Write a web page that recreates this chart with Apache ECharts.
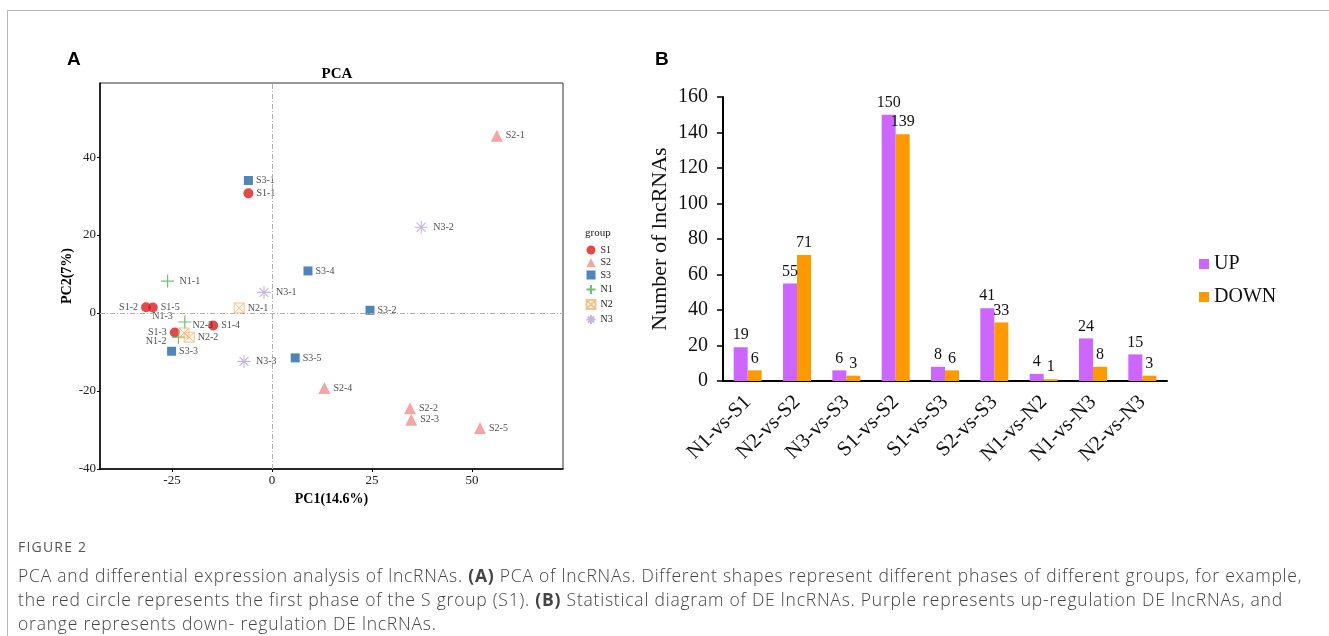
<!DOCTYPE html>
<html>
<head>
<meta charset="utf-8">
<script src="https://cdn.jsdelivr.net/npm/echarts@6/dist/echarts.min.js"></script>
<style>
html, body { margin: 0; padding: 0; background: #fff; }
#frame { position: absolute; left: 7px; top: 10px; width: 1330px; height: 640px;
         border-top: 1px solid #b8b8b8; border-left: 1px solid #b8b8b8; }
#chart { position: absolute; left: 0; top: 0; width: 1329px; height: 636px; }
#caption { position: absolute; left: 18px; top: 537px; font-family: 'Open Sans', sans-serif;
           color: #444; white-space: nowrap; }
#caption .fig { font-size: 14px; line-height: 19px; color: #555; letter-spacing: 1.2px; margin-bottom: 7px; }
#caption .txt { font-size: 17.5px; line-height: 24px; letter-spacing: 0.78px; font-weight: 300; }
#caption b { font-weight: 700; }
</style>
</head>
<body>
<div id="frame"></div>
<div id="chart"></div>
<div id="caption">
  <div class="fig">FIGURE 2</div>
  <div class="txt">PCA and differential expression analysis of lncRNAs. <b>(A)</b> PCA of lncRNAs. Different shapes represent different phases of different groups, for example,<br>the red circle represents the first phase of the S group (S1). <b>(B)</b> Statistical diagram of DE lncRNAs. Purple represents up-regulation DE lncRNAs, and<br>orange represents down- regulation DE lncRNAs.</div>
</div>
<script>
// PCA samples: [name, PC1, PC2]
const pcaS1 = [['S1-1', -5.9, 30.7], ['S1-2', -31.5, 1.5], ['S1-3', -24.3, -5.0], ['S1-4', -14.7, -3.2], ['S1-5', -29.8, 1.4]];
const pcaS2 = [['S2-1', 56.2, 45.5], ['S2-2', 34.5, -24.4], ['S2-3', 34.8, -27.4], ['S2-4', 13.1, -19.2], ['S2-5', 52.0, -29.5]];
const pcaS3 = [['S3-1', -5.9, 34.0], ['S3-2', 24.5, 0.7], ['S3-3', -25.1, -9.8], ['S3-4', 9.0, 10.8], ['S3-5', 5.8, -11.5]];
const pcaN1 = [['N1-1', -26.1, 8.2], ['N1-2', -23.4, -6.2], ['N1-3', -21.8, -2.3]];
const pcaN2 = [['N2-1', -8.2, 1.3], ['N2-2', -20.7, -6.2], ['N2-3', -22.0, -5.1]];
const pcaN3 = [['N3-1', -2.0, 5.3], ['N3-2', 37.3, 22.0], ['N3-3', -7.0, -12.4]];
const pcaXTicks = [-25, 0, 25, 50];
const pcaYTicks = [-40, -20, 0, 20, 40];

// DE lncRNA counts
const compares = ['N1-vs-S1', 'N2-vs-S2', 'N3-vs-S3', 'S1-vs-S2', 'S1-vs-S3', 'S2-vs-S3', 'N1-vs-N2', 'N1-vs-N3', 'N2-vs-N3'];
const upCounts = [19, 55, 6, 150, 8, 41, 4, 24, 15];
const downCounts = [6, 71, 3, 139, 6, 33, 1, 8, 3];

const SERIF = '"Liberation Serif", "Times New Roman", serif';

// label placement tweaks for the crowded cluster
const labelTweaks = {
    'S1-2': { position: 'left' },
    'S1-3': { position: 'left' },
    'N1-2': { position: 'left', offset: [0, 4] },
    'N1-3': { position: 'left', offset: [0, -6] },
    'N2-3': { position: 'right', offset: [0, -8] }
};

function toPoints(rows) {
    return rows.map(r => {
        let item = { name: r[0], value: [r[1], r[2]] };
        if (labelTweaks[r[0]]) item.label = labelTweaks[r[0]];
        return item;
    });
}

const groups = [
    { name: 'S1', rows: pcaS1, symbol: 'circle', size: 10, style: { color: '#dd1c1c' } },
    { name: 'S2', rows: pcaS2, symbol: 'triangle', size: 12, style: { color: '#f0908c' } },
    { name: 'S3', rows: pcaS3, symbol: 'rect', size: 9, style: { color: '#2367a8' } },
    { name: 'N1', rows: pcaN1, symbol: 'path://M5,0L5,10M0,5L10,5', size: 13,
      style: { color: 'none', borderColor: '#4fb04f', borderWidth: 1.2 } },
    { name: 'N2', rows: pcaN2, symbol: 'path://M0,0L10,0L10,10L0,10ZM0,0L10,10M10,0L0,10', size: 10,
      style: { color: 'rgba(246,190,130,0.15)', borderColor: '#f3b774', borderWidth: 1 } },
    { name: 'N3', rows: pcaN3, symbol: 'path://M5,0L5,10M0,5L10,5M1.5,1.5L8.5,8.5M8.5,1.5L1.5,8.5', size: 13,
      style: { color: 'none', borderColor: '#bba4d6', borderWidth: 1.1 } }
];

let series = groups.map((g, i) => ({
    name: g.name,
    type: 'scatter',
    xAxisIndex: 0,
    yAxisIndex: 0,
    symbol: g.symbol,
    symbolSize: g.size,
    itemStyle: g.style,
    data: toPoints(g.rows),
    label: {
        show: true, position: 'right', distance: 3, formatter: '{b}',
        fontFamily: SERIF, fontSize: 10, color: '#222'
    },
    markLine: i === 0 ? {
        silent: true, symbol: 'none', label: { show: false },
        lineStyle: { color: '#b0b0b0', width: 1, type: [5, 2, 1, 2] },
        data: [{ xAxis: 0 }, { yAxis: 0 }]
    } : undefined,
    z: 3
}));

series.push({
    name: 'UP', type: 'bar', xAxisIndex: 1, yAxisIndex: 1,
    data: upCounts, barWidth: 14, barGap: '0%',
    itemStyle: { color: '#cc66ff' },
    label: { show: true, position: 'top', distance: 4, fontFamily: SERIF, fontSize: 16, color: '#111' }
});
series.push({
    name: 'DOWN', type: 'bar', xAxisIndex: 1, yAxisIndex: 1,
    data: downCounts, barWidth: 14, barGap: '0%',
    itemStyle: { color: '#ff9900' },
    label: { show: true, position: 'top', distance: 4, fontFamily: SERIF, fontSize: 16, color: '#111' }
});

let option = {
    animation: false,
    title: [
        { text: 'A', left: 62, top: 45, textStyle: { fontFamily: '"Liberation Sans", Arial, sans-serif', fontWeight: 'bold', fontSize: 19, color: '#000' } },
        { text: 'B', left: 650, top: 45, textStyle: { fontFamily: '"Liberation Sans", Arial, sans-serif', fontWeight: 'bold', fontSize: 19, color: '#000' } },
        { text: 'PCA', left: 332, top: 62, textAlign: 'center', textStyle: { fontFamily: SERIF, fontWeight: 'bold', fontSize: 15, color: '#000' } },
        { text: 'group', left: 580, top: 223, textStyle: { fontFamily: SERIF, fontWeight: 'normal', fontSize: 11, color: '#222' } }
    ],
    legend: [
        {
            data: ['S1', 'S2', 'S3', 'N1', 'N2', 'N3'],
            orient: 'vertical', left: 579, top: 240,
            itemWidth: 9, itemHeight: 9, itemGap: 2.5,
            textStyle: { fontFamily: SERIF, fontSize: 10, color: '#222' }
        },
        {
            data: ['UP', 'DOWN'],
            orient: 'vertical', left: 1194, top: 249,
            icon: 'rect', itemWidth: 10, itemHeight: 10, itemGap: 13,
            textStyle: { fontFamily: SERIF, fontSize: 20, color: '#111' }
        }
    ],
    grid: [
        { left: 100, top: 83, width: 463, height: 386, show: true, borderColor: '#333', borderWidth: 1 },
        { left: 723, top: 97, width: 444, height: 284 }
    ],
    xAxis: [
        {
            gridIndex: 0, type: 'value', min: -43, max: 72.75,
            name: 'PC1(14.6%)', nameLocation: 'middle', nameGap: 14,
            nameTextStyle: { fontFamily: SERIF, fontWeight: 'bold', fontSize: 14, color: '#000' },
            axisLine: { onZero: false, lineStyle: { color: '#000', width: 1.5 } },
            axisTick: { customValues: pcaXTicks, length: 3, lineStyle: { color: '#000' } },
            axisLabel: { customValues: pcaXTicks, fontFamily: SERIF, fontSize: 13, color: '#222', margin: 5 },
            splitLine: { show: false }
        },
        {
            gridIndex: 1, type: 'category', data: compares,
            axisLine: { lineStyle: { color: '#000', width: 2 } },
            axisTick: { alignWithLabel: true, length: 6, lineStyle: { color: '#000', width: 1.5 } },
            axisLabel: { interval: 0, rotate: 45, fontFamily: SERIF, fontSize: 21, color: '#111', margin: 18 }
        }
    ],
    yAxis: [
        {
            gridIndex: 0, type: 'value', min: -40, max: 59,
            name: 'PC2(7%)', nameLocation: 'middle', nameGap: 15,
            nameTextStyle: { fontFamily: SERIF, fontWeight: 'bold', fontSize: 14, color: '#000' },
            axisLine: { onZero: false, lineStyle: { color: '#000', width: 1.5 } },
            axisTick: { show: true, customValues: pcaYTicks, length: 3, lineStyle: { color: '#000' } },
            axisLabel: { customValues: pcaYTicks, fontFamily: SERIF, fontSize: 13, color: '#222', margin: 4 },
            splitLine: { show: false }
        },
        {
            gridIndex: 1, type: 'value', min: 0, max: 160, interval: 20,
            name: 'Number of lncRNAs', nameLocation: 'middle', nameGap: 52,
            nameTextStyle: { fontFamily: SERIF, fontSize: 22, color: '#111' },
            axisLine: { show: true, lineStyle: { color: '#000', width: 2 } },
            axisTick: { show: true, length: 6, lineStyle: { color: '#000', width: 1.5 } },
            axisLabel: { fontFamily: SERIF, fontSize: 20, color: '#111', margin: 15 },
            splitLine: { show: false }
        }
    ],
    series: series
};

let myChart = echarts.init(document.getElementById('chart'));
myChart.setOption(option);
</script>
</body>
</html>
